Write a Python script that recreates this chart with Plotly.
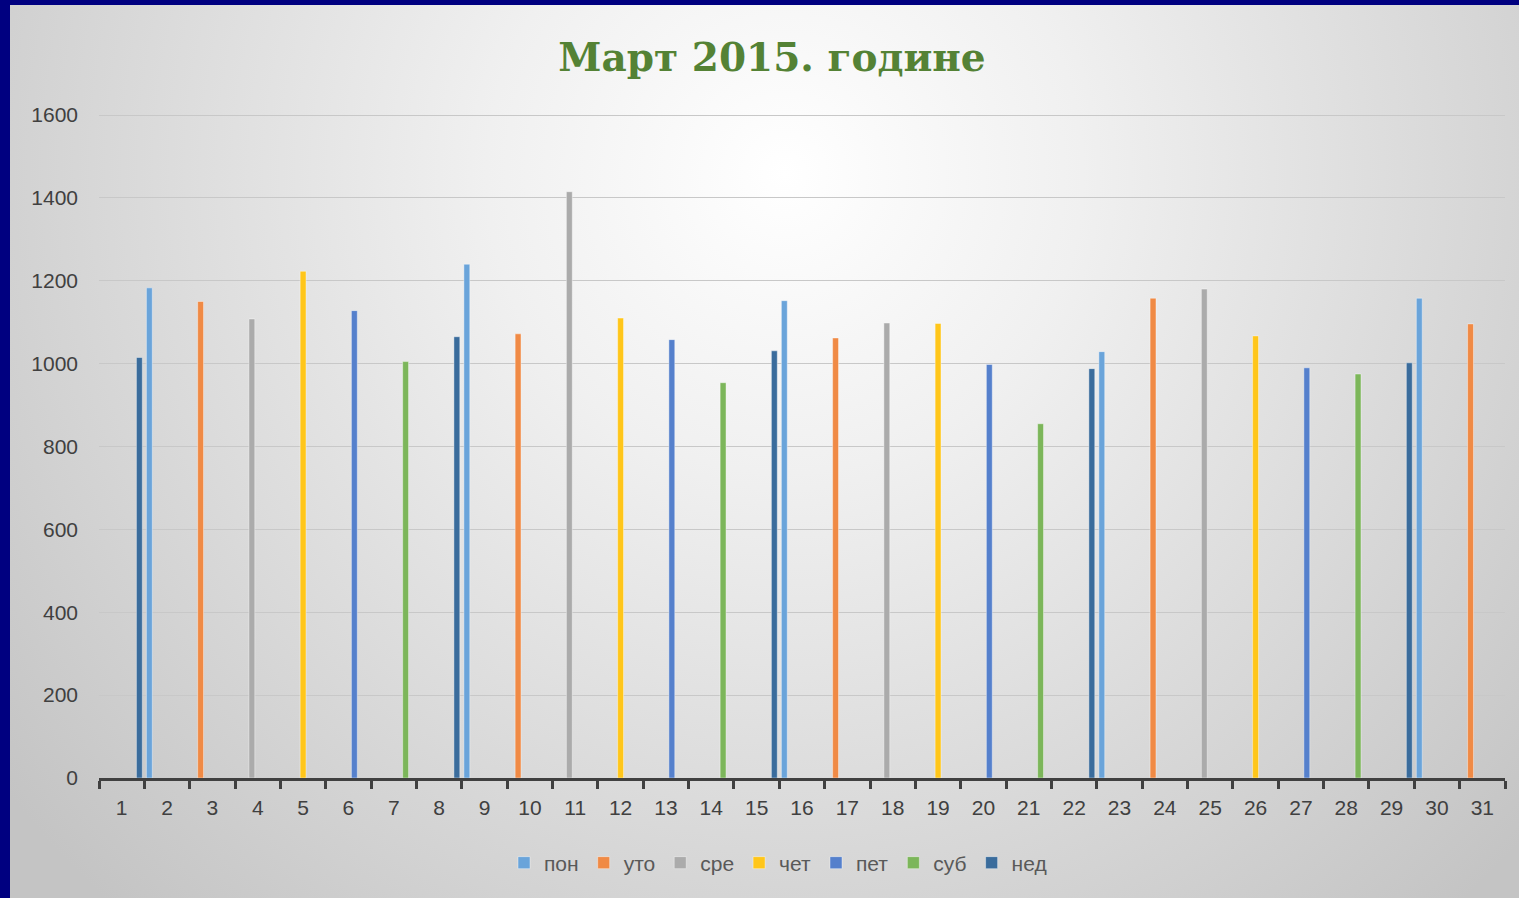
import base64
import plotly.graph_objects as go

# дани у марту 2015. и вредности по данима
days = [str(d) for d in range(1, 32)]
values = [1015, 1183, 1150, 1108, 1223, 1128, 1005, 1065, 1240, 1072,
          1415, 1110, 1058, 954, 1031, 1152, 1062, 1098, 1097, 998,
          855, 988, 1029, 1158, 1180, 1067, 990, 975, 1002, 1158, 1096]
weekdays = ['пон', 'уто', 'сре', 'чет', 'пет', 'суб', 'нед']
colors = ['#6AA4DA', '#F08A45', '#ABABAB', '#FFC61A', '#5580CC', '#7CB65A', '#3A6C9C']
first_weekday = 6  # 1. март 2015. је недеља

W, H = 1519, 898
L, R, T, B = 99, 14, 113, 120
pw, ph = W - L - R, H - T - B

# позадина: радијални градијент као SVG
svg = f'''<svg xmlns="http://www.w3.org/2000/svg" width="{W}" height="{H}" viewBox="0 0 {W} {H}" preserveAspectRatio="none">
<defs><radialGradient id="g" gradientUnits="userSpaceOnUse" cx="780" cy="170" r="1000">
<stop offset="0" stop-color="#ffffff"/><stop offset="0.3" stop-color="#f0f0f0"/><stop offset="1" stop-color="#c4c4c4"/></radialGradient></defs>
<rect x="0" y="0" width="{W}" height="{H}" fill="url(#g)"/></svg>'''
bg = 'data:image/svg+xml;base64,' + base64.b64encode(svg.encode()).decode()

fig = go.Figure()
for i, (name, col) in enumerate(zip(weekdays, colors)):
    y = [v if (first_weekday + k) % 7 == i else None for k, v in enumerate(values)]
    fig.add_trace(go.Bar(x=days, y=y, name=name, marker_color=col,
                         marker_line=dict(color='rgba(255,255,255,0.5)', width=0.8)))

fig.update_layout(
    width=W, height=H,
    margin=dict(l=L, r=R, t=T, b=B),
    paper_bgcolor='#000080',
    plot_bgcolor='rgba(0,0,0,0)',
    barmode='group', bargap=0.09, bargroupgap=0.0,
    title=dict(text='<b>Март 2015. године</b>', x=772 / W, xanchor='center',
               y=1 - 57 / H, yanchor='middle',
               font=dict(family='DejaVu Serif', size=39, color='#548235')),
    font=dict(family='Liberation Sans', size=21, color='#404040'),
    legend=dict(orientation='h', x=(778 - L) / pw, xanchor='center',
                y=-(863 - T - ph) / ph, yanchor='middle',
                font=dict(size=21, color='#595959'), itemwidth=30,
                bgcolor='rgba(0,0,0,0)', traceorder='normal'),
    showlegend=True,
    images=[dict(source=bg, xref='paper', yref='paper',
                 x=(10 - L) / pw, y=1 + (T - 5) / ph,
                 sizex=(W - 10) / pw, sizey=(H - 5) / ph,
                 xanchor='left', yanchor='top', sizing='stretch', layer='below')],
)
fig.update_xaxes(type='category', showline=True, linecolor='#404040', linewidth=3,
                 ticks='outside', tickson='boundaries', ticklen=8, tickwidth=3,
                 tickcolor='#404040', showgrid=False, tickfont=dict(size=21),
                 ticklabelstandoff=9)
fig.update_yaxes(range=[0, 1605], tickvals=list(range(0, 1601, 200)), showgrid=True,
                 gridcolor='#c8c8c8', gridwidth=1, zeroline=False, showline=False,
                 ticks='', ticklabelstandoff=20, tickfont=dict(size=21))

fig.write_html("out.html", config={'displayModeBar': False},
               post_script="document.body.style.margin='0';")
